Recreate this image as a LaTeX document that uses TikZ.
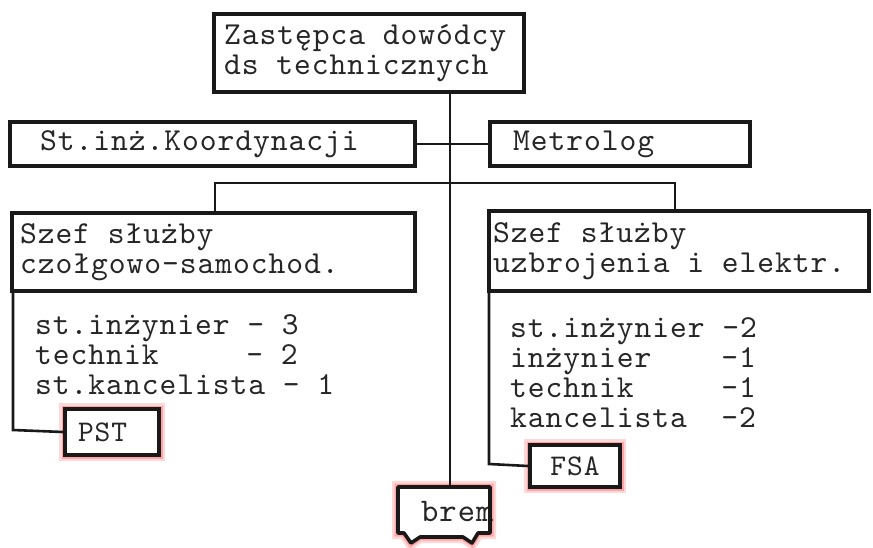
\documentclass[tikz,border=0pt]{standalone}
\usepackage{fontspec}
% slightly opened-up typewriter face
\setmonofont{lmmono10-regular.otf}[LetterSpace=3]
\begin{document}
\begin{tikzpicture}[x=1pt,y=-1pt,
  % typewriter spacing: every word space is one full character cell
  fullspace/.style={execute at begin node={\spaceskip=0.555em\relax\xspaceskip=0.555em\relax}},
  ink/.style={draw=black!90, line width=2.6pt},
  box/.style={draw=black!90, line width=4pt, fill=white, anchor=north west,
    align=left, inner ysep=0pt, text=black!85, fullspace,
    font=\ttfamily\fontsize{32}{30}\selectfont},
  roster/.style={anchor=north west, align=left, inner sep=0pt, text=black!85, fullspace,
    font=\ttfamily\fontsize{32}{30}\selectfont},
  glow/.style={preaction={draw=red!35, line width=12pt, opacity=0.45},
    preaction={draw=red!55, line width=7pt, opacity=0.5}},
  tag/.style={box, glow, font=\ttfamily\fontsize{30}{30}\selectfont}]
\useasboundingbox (0,0) rectangle (873,547);

% fixed turning points of the connectors
\coordinate (barL) at (215,183);
\coordinate (barR) at (675,183);
\coordinate (lturn) at (13,430);
\coordinate (rturn) at (489,464);
\coordinate (bremtop) at (448,487);

% boxes
\node (top) [box, minimum width=310, minimum height=78, inner xsep=10, text width=290]
  at (212,12) {Zastępca dowódcy\\ds technicznych};
\node (koord) [box, minimum width=405, minimum height=44, inner xsep=30, text width=345]
  at (8,120) {St.inż.Koordynacji};
\node (metro) [box, minimum width=260, minimum height=44, inner xsep=23, text width=214]
  at (488,120) {Metrolog};
\node (lszef) [box, minimum width=403, minimum height=78, inner xsep=8, text width=387]
  at (10,211) {Szef służby\\czołgowo-samochod.};
\node (rszef) [box, minimum width=380, minimum height=80, inner xsep=4, text width=372]
  at (487,209) {Szef służby\\uzbrojenia i elektr.};

\node (pst) [tag, minimum width=94, minimum height=46, inner xsep=13, text width=68]
  at (63,407) {PST};
\node (fsa) [tag, align=center, minimum width=90, minimum height=42, inner xsep=4, text width=82]
  at (528,443) {FSA};

% staff lists
\node (llist) [roster] at (35,314)
  {st.inżynier - 3\\technik\hphantom{xxxxx}- 2\\st.kancelista - 1};
\node (rlist) [roster] at (510,317)
  {st.inżynier -2\\inżynier\hphantom{xxxx}-1\\technik\hphantom{xxxxx}-1\\kancelista\hphantom{xx}-2};

% workshop tag with notched lower edge
\path[glow, fill=white] (398,487) -- (490,487) -- (490,533) -- (478,533) -- (472,543)
  -- (463,537) -- (420,537) -- (411,543) -- (404,533) -- (398,533) -- cycle;
\node (brem) [anchor=base west, inner sep=0pt, text=black!85,
  font=\ttfamily\fontsize{33}{30}\selectfont] at (421,521) {brem};
\draw[draw=black!90, line width=3.6pt, line join=round]
  (398,533) -- (398,487) -- (490,487) -- (490,533) -- (478,533) -- (472,543)
  -- (463,537) -- (420,537) -- (411,543) -- (404,533) -- cycle;

% connectors
\path (top.south) ++ (81,0) coordinate (spine);
\draw[ink] (spine) -- (spine |- bremtop);
\draw[ink] (koord.east) -- (metro.west);
\draw[ink] (lszef.north -| barL) -- (barL) -- (barR) -- (rszef.north -| barR);
\draw[ink] (lszef.south -| lturn) -- (lturn) -- (pst.west);
\draw[ink] (rszef.south -| rturn) -- (rturn) -- (fsa.west);
\end{tikzpicture}
\end{document}
